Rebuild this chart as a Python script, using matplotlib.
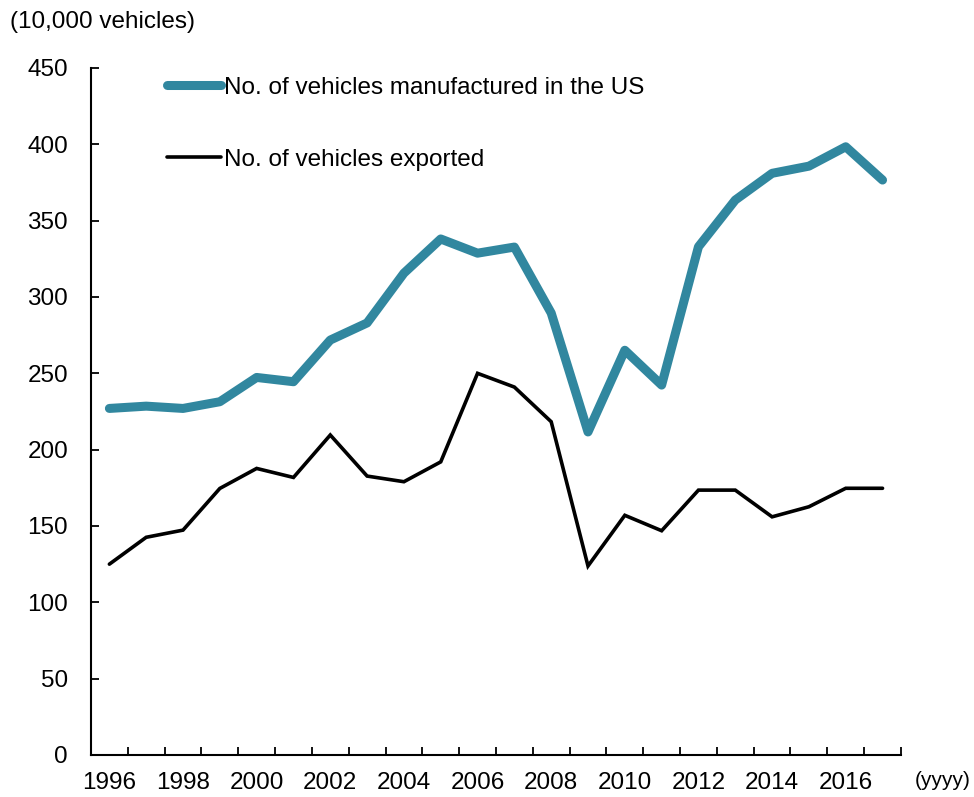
import numpy as np
import matplotlib
matplotlib.use("Agg")
import matplotlib.pyplot as plt

plt.rcParams["font.family"] = ["Liberation Sans", "DejaVu Sans"]

# ── Data (10,000 vehicles) ────────────────────────────────────────────────────
years = list(range(1996, 2018))
manufactured = [227, 228.5, 227, 231.4, 247.3, 244.5, 271.8, 283, 315.6, 338,
                328.7, 332.7, 289.5, 211.6, 265.1, 242.3, 332.9, 363.5, 381,
                385.7, 398.4, 376.6]
exported = [125, 142.6, 147.3, 174.6, 187.7, 181.8, 209.6, 182.7, 179, 192,
            250, 241, 218.3, 123.8, 157, 146.9, 173.5, 173.5, 156, 162.6,
            174.7, 174.7]

TEAL = "#31879f"
FS = 17.5

fig = plt.figure(figsize=(9.74, 7.97), dpi=100)
ax = fig.add_axes([0.0934, 0.0527, 0.8316, 0.862])

x = np.arange(len(years))
ax.plot(x, manufactured, color=TEAL, lw=6.5, solid_capstyle="round",
        solid_joinstyle="round", label="No. of vehicles manufactured in the US")
ax.plot(x, exported, color="black", lw=2.6, solid_capstyle="round",
        solid_joinstyle="miter", label="No. of vehicles exported")

ax.set_xlim(-0.5, len(years) - 0.5)
ax.set_ylim(0, 450)
ax.set_yticks(np.arange(0, 451, 50))

# year labels every second category, tick marks on category boundaries
ax.set_xticks(x[::2])
ax.set_xticklabels([str(y) for y in years[::2]])
ax.set_xticks(np.arange(-0.5, len(years), 1.0), minor=True)
ax.tick_params(axis="x", which="major", length=0, pad=12, labelsize=FS)
ax.tick_params(axis="x", which="minor", direction="in", length=6, width=1.3)
ax.tick_params(axis="y", direction="in", length=6, width=1.3, pad=16.5,
               labelsize=FS)

for side in ("top", "right"):
    ax.spines[side].set_visible(False)
for side in ("left", "bottom"):
    ax.spines[side].set_linewidth(1.5)

fig.text(0.010, 0.972, "(10,000 vehicles)", fontsize=FS, ha="left", va="center")
fig.text(0.968, 0.021, "(yyyy)", fontsize=15, ha="center", va="center")

leg = ax.legend(loc="upper left", bbox_to_anchor=(0.073, 1.012), frameon=False,
                fontsize=FS, handlelength=2.2, handletextpad=0.15,
                labelspacing=2.05, borderaxespad=0.3)

fig.savefig("out.png", dpi=100)
